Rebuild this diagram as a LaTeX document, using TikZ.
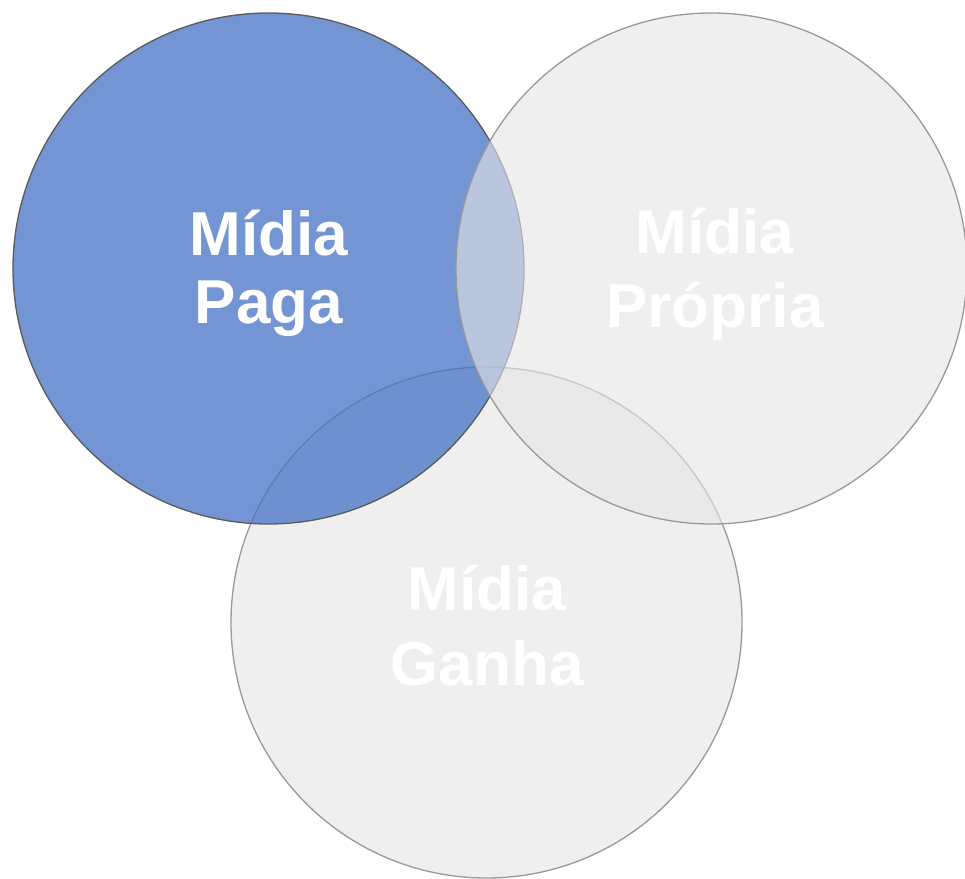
\documentclass[tikz,border=0pt]{standalone}
\usepackage{fontspec}
\setmainfont{Liberation Sans}
\definecolor{paidblue}{HTML}{4472C4}
\definecolor{softgray}{HTML}{E5E5E5}
\definecolor{rimgray}{HTML}{999999}
\definecolor{rimdark}{HTML}{5A5A5A}
\tikzset{
  graydisc/.style={circle, minimum size=511bp, inner sep=0pt, fill=softgray, fill opacity=0.62, draw=rimgray, draw opacity=1, line width=1.3bp},
  bluedisc/.style={circle, minimum size=511bp, inner sep=0pt, fill=paidblue, fill opacity=0.75, draw=rimdark, draw opacity=1, line width=1.3bp},
  lbl/.style={text=white, align=center, anchor=base, inner sep=0pt, font=\bfseries\fontsize{62bp}{72bp}\selectfont}
}
\begin{document}
\begin{tikzpicture}[x=1bp,y=-1bp]
\useasboundingbox (0,0) rectangle (965,879);
\node[graydisc] (ganha) at (486.5,622.5) {};
\node[bluedisc] (paga) at (268.5,268.5) {};
\node[graydisc] (propria) at (711.5,268.5) {};
\node[lbl, font=\bfseries\fontsize{62bp}{68bp}\selectfont] (tpaga) at (269,323) {Mídia\\Paga};
\node[lbl, font=\bfseries\fontsize{62bp}{74bp}\selectfont] (tpropria) at (715,327) {Mídia\\Própria};
\node[lbl, font=\bfseries\fontsize{62bp}{75bp}\selectfont] (tganha) at (487,685) {Mídia\\Ganha};
\end{tikzpicture}
\end{document}
